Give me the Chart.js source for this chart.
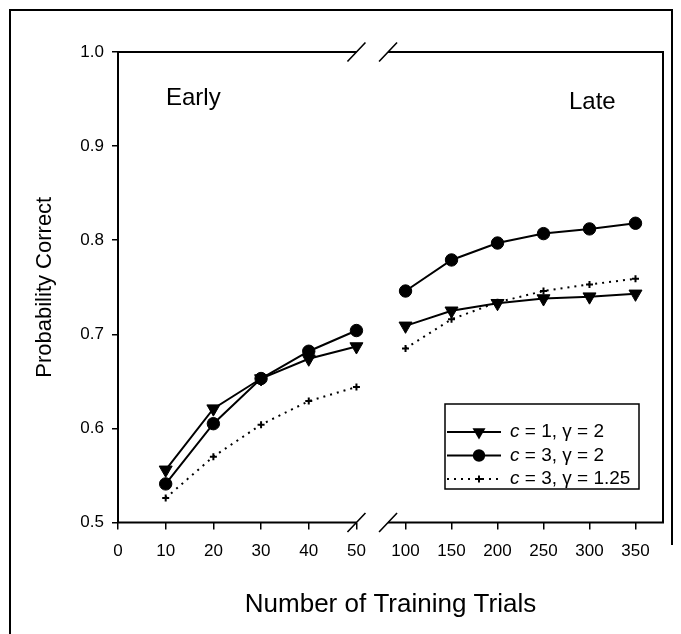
<!DOCTYPE html>
<html><head><meta charset="utf-8">
<script src="https://cdn.jsdelivr.net/npm/chart.js@4.4.1/dist/chart.umd.min.js"></script>
<style>html,body{margin:0;padding:0;background:#fff}#wrap{width:681px;height:634px;position:relative}</style>
</head><body><div id="wrap"><canvas id="c" width="681" height="634"></canvas></div>
<script>
// ---- data ----
const earlyTrials = [10, 20, 30, 40, 50];
const lateTrials = [100, 150, 200, 250, 300, 350];
const earlyTicks = [0, 10, 20, 30, 40, 50];
const lateTicks = [100, 150, 200, 250, 300, 350];
const yTicks = [0.5, 0.6, 0.7, 0.8, 0.9, 1.0];

const c1g2Early = [0.556, 0.621, 0.653, 0.674, 0.687];
const c1g2Late = [0.709, 0.725, 0.733, 0.738, 0.740, 0.743];
const c3g2Early = [0.541, 0.605, 0.653, 0.682, 0.704];
const c3g2Late = [0.746, 0.779, 0.797, 0.807, 0.812, 0.818];
const c3g125Early = [0.526, 0.570, 0.604, 0.629, 0.644];
const c3g125Late = [0.685, 0.716, 0.734, 0.746, 0.753, 0.759];

const seriesNames = [[' = 1, \u03b3 = 2'], [' = 3, \u03b3 = 2'], [' = 3, \u03b3 = 1.25']];
const phaseLabels = ['Early', 'Late'];
const xTitle = 'Number of Training Trials';
const yTitle = 'Probability Correct';

const FONT = "'Liberation Sans', Arial, Helvetica, sans-serif";

const styles = [
  {borderColor:'#000', backgroundColor:'#000', borderWidth:2, pointStyle:'triangle', rotation:180, pointRadius:7.5, pointBorderWidth:1},
  {borderColor:'#000', backgroundColor:'#000', borderWidth:2, pointStyle:'circle', pointRadius:6.2, pointBorderWidth:1},
  {borderColor:'#000', backgroundColor:'#000', borderWidth:2, borderDash:[2,5], pointStyle:'cross', pointRadius:3.5, pointBorderWidth:2}
];

function ds(idx, xs, ys, axis) {
  return Object.assign({
    label: 'c' + seriesNames[idx][0],
    data: xs.map((x, i) => ({x: x, y: ys[i]})),
    xAxisID: axis, yAxisID: 'y', tension: 0, fill: false
  }, styles[idx]);
}

const datasets = [
  ds(0, earlyTrials, c1g2Early, 'xL'), ds(0, lateTrials, c1g2Late, 'xR'),
  ds(1, earlyTrials, c3g2Early, 'xL'), ds(1, lateTrials, c3g2Late, 'xR'),
  ds(2, earlyTrials, c3g125Early, 'xL'), ds(2, lateTrials, c3g125Late, 'xR')
];

function tickFont() { return {family: FONT, size: 17}; }

function xScale(ticksArr, min, max, weight) {
  return {
    type: 'linear', position: 'bottom', stack: 'x', stackWeight: weight,
    min: min, max: max,
    afterBuildTicks: s => { s.ticks = ticksArr.map(v => ({value: v})); },
    afterFit: s => { s.height = 111.5; },
    grid: {drawOnChartArea: false, drawTicks: true, tickLength: 7, color: '#000', lineWidth: 1.5},
    border: {display: false},
    ticks: {padding: 12, color: '#000', font: tickFont(), maxRotation: 0, autoSkip: false, callback: v => String(v)}
  };
}

function drawMarker(ctx, idx, x, y) {
  ctx.save();
  ctx.fillStyle = '#000'; ctx.strokeStyle = '#000'; ctx.setLineDash([]);
  if (idx === 0) {
    const r = 7.5;
    ctx.beginPath();
    ctx.moveTo(x, y + r);
    ctx.lineTo(x + r * Math.sin(Math.PI * 2 / 3), y - r / 2);
    ctx.lineTo(x - r * Math.sin(Math.PI * 2 / 3), y - r / 2);
    ctx.closePath(); ctx.fill();
  } else if (idx === 1) {
    ctx.beginPath(); ctx.arc(x, y, 6.2, 0, Math.PI * 2); ctx.fill();
  } else {
    ctx.lineWidth = 2;
    ctx.beginPath(); ctx.moveTo(x - 3.5, y); ctx.lineTo(x + 3.5, y);
    ctx.moveTo(x, y - 3.5); ctx.lineTo(x, y + 3.5); ctx.stroke();
  }
  ctx.restore();
}

const decor = {
  id: 'decor',
  afterDraw(chart) {
    const ctx = chart.ctx, a = chart.chartArea;
    const xL = chart.scales.xL, xR = chart.scales.xR;
    const b1 = xL.getPixelForValue(50), b2 = xR.getPixelForValue(81);
    ctx.save();
    ctx.strokeStyle = '#000'; ctx.fillStyle = '#000';
    // outer frame
    ctx.lineWidth = 2;
    ctx.beginPath();
    ctx.moveTo(10, 634); ctx.lineTo(10, 10); ctx.lineTo(672, 10); ctx.lineTo(672, 545);
    ctx.stroke();
    // axes
    ctx.lineWidth = 2;
    ctx.beginPath();
    ctx.moveTo(a.left, a.top); ctx.lineTo(a.left, a.bottom);
    ctx.moveTo(a.right, a.top); ctx.lineTo(a.right, a.bottom);
    [a.top, a.bottom].forEach(yy => {
      ctx.moveTo(a.left - 1, yy); ctx.lineTo(b1, yy);
      ctx.moveTo(b2, yy); ctx.lineTo(a.right + 1, yy);
    });
    ctx.stroke();
    ctx.lineWidth = 1.6;
    ctx.beginPath();
    [a.top, a.bottom].forEach(yy => {
      [b1, b2].forEach(bx => { ctx.moveTo(bx - 9, yy + 9.5); ctx.lineTo(bx + 9, yy - 9.5); });
    });
    ctx.stroke();
    // phase labels
    ctx.font = '24px ' + FONT;
    ctx.textBaseline = 'alphabetic'; ctx.textAlign = 'left';
    ctx.fillText(phaseLabels[0], 166, 105);
    ctx.fillText(phaseLabels[1], 569, 109);
    // x title
    ctx.font = '26px ' + FONT; ctx.textAlign = 'center';
    ctx.fillText(xTitle, (a.left + a.right) / 2, 612);
    // y title
    ctx.save();
    ctx.translate(45, (a.top + a.bottom) / 2);
    ctx.rotate(-Math.PI / 2);
    ctx.font = '22px ' + FONT; ctx.textBaseline = 'middle';
    ctx.fillText(yTitle, 0, 0);
    ctx.restore();
    // legend
    ctx.lineWidth = 1.5;
    ctx.strokeRect(445, 404, 194, 85);
    const rows = [432, 455.5, 479];
    rows.forEach((ry, i) => {
      ctx.save();
      ctx.lineWidth = 2;
      ctx.setLineDash(styles[i].borderDash || []);
      ctx.beginPath(); ctx.moveTo(447, ry); ctx.lineTo(501, ry); ctx.stroke();
      ctx.restore();
      drawMarker(ctx, i, 479, ry);
      ctx.textAlign = 'left'; ctx.textBaseline = 'middle';
      ctx.font = 'italic 19px ' + FONT;
      ctx.fillText('c', 510, ry);
      const w = ctx.measureText('c').width;
      ctx.font = '19px ' + FONT;
      ctx.fillText(seriesNames[i][0], 510 + w, ry);
    });
    ctx.restore();
  }
};

new Chart(document.getElementById('c'), {
  type: 'line',
  data: {datasets: datasets},
  options: {
    responsive: false, animation: false, devicePixelRatio: 1,
    layout: {padding: {left: 10, right: 18, top: 52, bottom: 0}},
    plugins: {legend: {display: false}, tooltip: {enabled: false}, title: {display: false}},
    scales: {
      xL: xScale(earlyTicks, 0, 54.1, 258),
      xR: xScale(lateTicks, 67.9, 379.9, 287),
      y: {
        type: 'linear', position: 'left', min: 0.5, max: 1.0,
        afterBuildTicks: s => { s.ticks = yTicks.map(v => ({value: v})); },
        afterFit: s => { s.width = 108; },
        grid: {drawOnChartArea: false, drawTicks: true, tickLength: 6, color: '#000', lineWidth: 1.5},
        border: {display: false},
        ticks: {padding: 8, color: '#000', font: tickFont(), callback: v => Number(v).toFixed(1)}
      }
    }
  },
  plugins: [decor]
});
</script>
</body></html>
